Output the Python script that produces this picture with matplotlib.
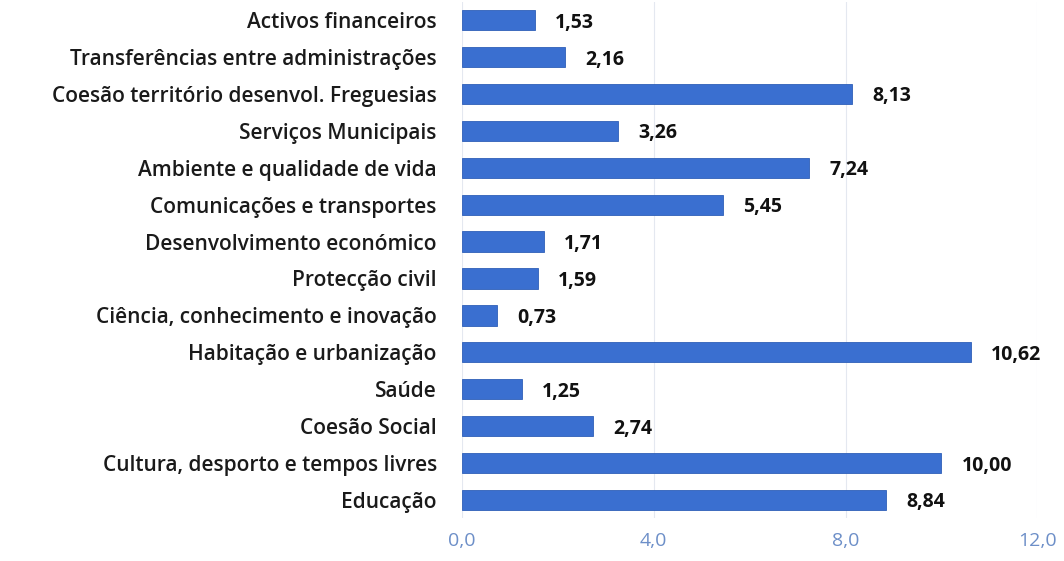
import numpy as np
import matplotlib.pyplot as plt

categories = ["Activos financeiros", "Transferências entre administrações",
              "Coesão território desenvol. Freguesias", "Serviços Municipais",
              "Ambiente e qualidade de vida", "Comunicações e transportes",
              "Desenvolvimento económico", "Protecção civil",
              "Ciência, conhecimento e inovação", "Habitação e urbanização",
              "Saúde", "Coesão Social", "Cultura, desporto e tempos livres",
              "Educação"]
values = [1.53, 2.16, 8.13, 3.26, 7.24, 5.45, 1.71, 1.59, 0.73, 10.62,
          1.25, 2.74, 10.00, 8.84]
xticks = [0, 4, 8, 12]

plt.rcParams['font.family'] = ['Open Sans', 'DejaVu Sans']

fig = plt.figure(figsize=(10.64, 5.61), dpi=100)
ax = fig.add_axes([0.434, 0.076, 0.541, 0.921])

y = np.arange(len(categories))
ax.barh(y, values, height=0.55, color='#3a6fd0', edgecolor='#2f5fb8', linewidth=0.6, zorder=3)
ax.set_ylim(len(categories) - 0.5, -0.5)
ax.set_xlim(0, 12)
ax.set_yticks(y)
ax.set_yticklabels(categories, fontsize=15, color='#1a1a1a', fontweight='semibold')
ax.set_xticks(xticks)
ax.set_xticklabels([f"{t:.1f}".replace('.', ',') for t in xticks], fontsize=14, color='#6d8fc8')
ax.tick_params(axis='both', length=0)
ax.tick_params(axis='y', pad=18)
ax.tick_params(axis='x', pad=10)
ax.xaxis.grid(True, color='#e4e8f0', linewidth=0.8, zorder=0)
for s in ax.spines.values():
    s.set_visible(False)

for yi, v in zip(y, values):
    ax.text(v + 0.42, yi, f"{v:.2f}".replace('.', ','), va='center_baseline', ha='left',
            fontsize=14, fontweight='bold', color='#111111')

fig.savefig('out.png', dpi=100)
